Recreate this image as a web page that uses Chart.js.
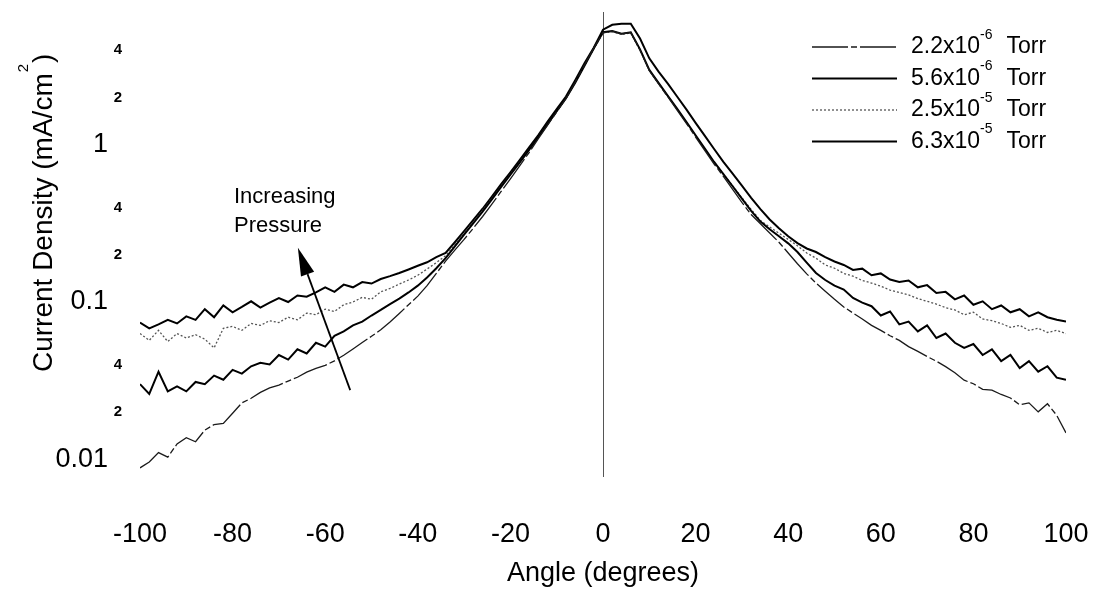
<!DOCTYPE html>
<html>
<head>
<meta charset="utf-8">
<title>Current Density vs Angle</title>
<script src="https://cdn.jsdelivr.net/npm/chart.js@4.4.1/dist/chart.umd.min.js"></script>
<style>
  html, body { margin: 0; padding: 0; background: #fff; }
  #wrap { width: 1097px; height: 590px; position: relative; }
</style>
</head>
<body>
<div id="wrap"><canvas id="chart"></canvas></div>
<script>
/* ---------- DATA ---------- */
const angles = [
  -100, -98, -96, -94, -92, -90, -88, -86, -84, -82, -80, -78, -76, -74, -72, -70, -68,
  -66, -64, -62, -60, -58, -56, -54, -52, -50, -48, -46, -44, -42, -40, -38, -36, -34,
  -32, -30, -28, -26, -24, -22, -20, -18, -16, -14, -12, -10, -8, -6, -4, -2,
  0, 2, 4, 6, 8, 10, 12, 14, 16, 18, 20, 22, 24, 26, 28, 30, 32, 34, 36, 38, 40, 42,
  44, 46, 48, 50, 52, 54, 56, 58, 60, 62, 64, 66, 68, 70, 72, 74, 76, 78, 80, 82, 84,
  86, 88, 90, 92, 94, 96, 98, 100,
];

// current density (mA/cm^2) per chamber pressure
const p22e6 = [
  0.0088, 0.0096, 0.011, 0.0103, 0.0125, 0.0137, 0.0129, 0.0153, 0.0166, 0.0169, 0.0196,
  0.0228, 0.0244, 0.0266, 0.0284, 0.0296, 0.0314, 0.0332, 0.0358, 0.0378, 0.0395, 0.0422,
  0.0458, 0.0502, 0.0552, 0.0605, 0.0665, 0.0745, 0.0845, 0.096, 0.109, 0.127, 0.152, 0.182,
  0.214, 0.25, 0.295, 0.35, 0.42, 0.505, 0.608, 0.735, 0.89, 1.09, 1.33, 1.62, 1.97, 2.5,
  3.22, 4.12,
  5.17, 5.28, 5.08, 5.18, 4.0, 2.96, 2.44, 2.02, 1.66, 1.37, 1.12, 0.92, 0.755, 0.63, 0.52,
  0.43, 0.36, 0.315, 0.275, 0.24, 0.205, 0.175,
  0.151, 0.132, 0.117, 0.104, 0.093, 0.085, 0.078, 0.071, 0.066, 0.061, 0.057, 0.052,
  0.0485, 0.045, 0.042, 0.0388, 0.0355, 0.0318, 0.0302, 0.0278, 0.0275, 0.0258, 0.0245,
  0.0222, 0.0228, 0.02, 0.0225, 0.019, 0.0147,
];
const p56e6 = [
  0.03, 0.026, 0.036, 0.027, 0.029, 0.027, 0.031, 0.03, 0.034, 0.032, 0.037, 0.035, 0.039,
  0.041, 0.04, 0.046, 0.043, 0.05, 0.047, 0.055, 0.052, 0.061, 0.065, 0.071, 0.075, 0.082,
  0.089, 0.097, 0.105, 0.115, 0.127, 0.143, 0.164, 0.19,
  0.226, 0.268, 0.318, 0.376, 0.45, 0.54, 0.645, 0.77, 0.925, 1.12, 1.35, 1.64, 1.98, 2.48,
  3.18, 4.1,
  5.2, 5.3, 5.1, 5.2, 4.05, 3.0, 2.48, 2.05, 1.7, 1.4, 1.15, 0.945, 0.778, 0.652, 0.545,
  0.455, 0.38, 0.325, 0.29, 0.262, 0.236, 0.208,
  0.178, 0.153, 0.138, 0.127, 0.12, 0.106, 0.099, 0.094, 0.082, 0.087, 0.072, 0.075, 0.065,
  0.071, 0.059, 0.063, 0.055, 0.051, 0.054, 0.046, 0.05, 0.042, 0.046, 0.038, 0.042, 0.036,
  0.039, 0.033, 0.032,
];
const p25e5 = [
  0.063, 0.057, 0.066, 0.056, 0.063, 0.059, 0.062, 0.058, 0.051, 0.068, 0.07, 0.066, 0.073,
  0.071, 0.076, 0.074, 0.08, 0.077, 0.085, 0.083, 0.09, 0.087, 0.096, 0.1, 0.107, 0.104,
  0.116, 0.122, 0.13, 0.138, 0.148, 0.162, 0.178, 0.197,
  0.232, 0.274, 0.322, 0.383, 0.455, 0.545, 0.65, 0.775, 0.93, 1.12, 1.36, 1.63, 1.97, 2.5,
  3.2, 4.08,
  5.15, 5.25, 5.05, 5.15, 4.0, 2.97, 2.45, 2.04, 1.68, 1.39, 1.14, 0.94, 0.775, 0.652, 0.548,
  0.46, 0.388, 0.33, 0.3, 0.274, 0.25, 0.228,
  0.205, 0.19, 0.172, 0.164, 0.152, 0.146, 0.137, 0.132, 0.126, 0.119, 0.115, 0.111, 0.105,
  0.101, 0.097, 0.092, 0.089, 0.083, 0.086, 0.078, 0.076, 0.073, 0.069, 0.071, 0.066, 0.068,
  0.064, 0.066, 0.063,
];
const p63e5 = [
  0.074, 0.068, 0.072, 0.077, 0.073, 0.081, 0.077, 0.09, 0.08, 0.095, 0.086, 0.093, 0.101,
  0.092, 0.099, 0.106, 0.1, 0.11, 0.108, 0.115, 0.124, 0.116, 0.129, 0.124, 0.134, 0.131,
  0.14, 0.146, 0.153, 0.161, 0.17, 0.179, 0.193, 0.205,
  0.24, 0.282, 0.333, 0.392, 0.468, 0.562, 0.668, 0.8, 0.96, 1.15, 1.4, 1.69, 2.03, 2.58,
  3.3, 4.15,
  5.4, 5.8, 5.9, 5.9, 4.75, 3.55, 2.92, 2.45, 2.03, 1.68, 1.38, 1.14, 0.94, 0.78, 0.655,
  0.55, 0.46, 0.39, 0.335, 0.295, 0.262, 0.237,
  0.219, 0.208, 0.193, 0.181, 0.172, 0.16, 0.163, 0.148, 0.152, 0.139, 0.134, 0.137, 0.124,
  0.128, 0.114, 0.116, 0.104, 0.11, 0.096, 0.101, 0.09, 0.095, 0.086, 0.09, 0.081, 0.086,
  0.08, 0.077, 0.075,
];

const pressureMantissa = ["2.2", "5.6", "2.5", "6.3"];
const pressureExp = ["-6", "-6", "-5", "-5"];

const yTickValues = [4, 2, 1, 0.4, 0.2, 0.1, 0.04, 0.02, 0.01];
const yTickLabels = ["4", "2", "1", "4", "2", "0.1", "4", "2", "0.01"];
const yTickMajor = [false, false, true, false, false, true, false, false, true];

const noteLines = ["Increasing", "Pressure"];
const notePos = [-79.7, 0.427]; // angle, density of first baseline
const arrowFrom = [-54.6, 0.0275];
const arrowTo = [-65.9, 0.221];

/* ---------- STYLE ---------- */
const FONT = '"Liberation Sans", Arial, sans-serif';

const series = [
  { data: p22e6, color: "#1a1a1a", width: 1.3, dash: [36, 3, 6, 3] },
  { data: p56e6, color: "#000", width: 2, dash: [] },
  { data: p25e5, color: "#555", width: 1.3, dash: [2, 2] },
  { data: p63e5, color: "#000", width: 2, dash: [] },
];

/* ---------- OVERLAY: axis labels, legend, note ---------- */
const overlay = {
  id: "overlay",
  afterDraw(chart) {
    const { ctx } = chart;
    const x = chart.scales.x;
    const y = chart.scales.y;
    ctx.save();
    ctx.fillStyle = "#000";

    // y tick labels (decades large, 2/4 small bold)
    ctx.textBaseline = "middle";
    ctx.textAlign = "right";
    yTickValues.forEach((v, i) => {
      const py = y.getPixelForValue(v);
      if (yTickMajor[i]) {
        ctx.font = `27px ${FONT}`;
        ctx.fillText(yTickLabels[i], 108, py);
      } else {
        ctx.font = `bold 15px ${FONT}`;
        ctx.fillText(yTickLabels[i], 122, py);
      }
    });

    // y title with superscript
    ctx.save();
    ctx.translate(52, 372);
    ctx.rotate(-Math.PI / 2);
    ctx.textAlign = "left";
    ctx.textBaseline = "alphabetic";
    ctx.font = `28px ${FONT}`;
    const t1 = "Current Density (mA/cm";
    ctx.fillText(t1, 0, 0);
    let w = ctx.measureText(t1).width + 1;
    ctx.font = `15px ${FONT}`;
    ctx.fillText("2", w, -24);
    w += ctx.measureText("2").width + 1;
    ctx.font = `28px ${FONT}`;
    ctx.fillText(")", w, 0);
    ctx.restore();

    // legend
    chart.data.datasets.forEach((ds, i) => {
      const ly = 47 + 31.5 * i;
      ctx.strokeStyle = ds.borderColor;
      ctx.lineWidth = ds.borderWidth;
      ctx.setLineDash(ds.borderDash || []);
      ctx.beginPath();
      ctx.moveTo(812, ly);
      ctx.lineTo(897, ly);
      ctx.stroke();
      ctx.setLineDash([]);

      ctx.textAlign = "left";
      ctx.textBaseline = "middle";
      ctx.font = `23px ${FONT}`;
      const base = pressureMantissa[i] + "x10";
      ctx.fillText(base, 911, ly);
      let tx = 911 + ctx.measureText(base).width;
      ctx.font = `14px ${FONT}`;
      ctx.fillText(pressureExp[i], tx, ly - 12);
      tx += ctx.measureText(pressureExp[i]).width + 14;
      ctx.font = `23px ${FONT}`;
      ctx.fillText("Torr", tx, ly);
    });

    // "Increasing Pressure" note
    ctx.font = `22px ${FONT}`;
    ctx.textAlign = "left";
    ctx.textBaseline = "alphabetic";
    const nx = x.getPixelForValue(notePos[0]);
    const ny = y.getPixelForValue(notePos[1]);
    noteLines.forEach((t, i) => ctx.fillText(t, nx, ny + i * 29));

    // arrow
    const x0 = x.getPixelForValue(arrowFrom[0]);
    const y0 = y.getPixelForValue(arrowFrom[1]);
    const x1 = x.getPixelForValue(arrowTo[0]);
    const y1 = y.getPixelForValue(arrowTo[1]);
    const ang = Math.atan2(y1 - y0, x1 - x0);
    const headLen = 28, headHalf = 7;
    const bx = x1 - headLen * Math.cos(ang);
    const by = y1 - headLen * Math.sin(ang);
    ctx.strokeStyle = "#000";
    ctx.lineWidth = 1.8;
    ctx.beginPath();
    ctx.moveTo(x0, y0);
    ctx.lineTo(bx, by);
    ctx.stroke();
    ctx.beginPath();
    ctx.moveTo(x1, y1);
    ctx.lineTo(bx + headHalf * Math.sin(ang), by - headHalf * Math.cos(ang));
    ctx.lineTo(bx - headHalf * Math.sin(ang), by + headHalf * Math.cos(ang));
    ctx.closePath();
    ctx.fill();

    ctx.restore();
  },
};

/* ---------- CHART ---------- */
new Chart(document.getElementById("chart"), {
  type: "line",
  data: {
    datasets: series.map((s, i) => ({
      label: pressureMantissa[i] + "x10^" + pressureExp[i] + " Torr",
      data: angles.map((a, j) => ({ x: a, y: s.data[j] })),
      borderColor: s.color,
      borderWidth: s.width,
      borderDash: s.dash,
      pointRadius: 0,
      tension: 0,
      fill: false,
    })),
  },
  options: {
    responsive: true,
    maintainAspectRatio: false,
    animation: false,
    layout: { padding: { left: 140, right: 31, top: 12, bottom: 0 } },
    scales: {
      x: {
        type: "linear",
        min: -100,
        max: 100,
        border: { display: false },
        grid: {
          drawTicks: false,
          color: (c) => (c.tick && c.tick.value === 0 ? "#555" : "rgba(0,0,0,0)"),
          lineWidth: 1,
        },
        ticks: {
          stepSize: 20,
          padding: 41,
          maxRotation: 0,
          autoSkip: false,
          color: "#000",
          font: { family: FONT, size: 27 },
        },
        title: {
          display: true,
          text: "Angle (degrees)",
          color: "#000",
          font: { family: FONT, size: 27 },
          padding: { top: 0, bottom: 0 },
        },
        afterFit: (scale) => {
          // fixed axis box; end labels may hang into the side margins
          scale.height = 113;
          scale.paddingLeft = 0;
          scale.paddingRight = 0;
        },
      },
      y: {
        type: "logarithmic",
        display: false,
        min: 0.0077,
        max: 7.0,
      },
    },
    plugins: {
      legend: { display: false },
      tooltip: { enabled: false },
    },
  },
  plugins: [overlay],
});
</script>
</body>
</html>
